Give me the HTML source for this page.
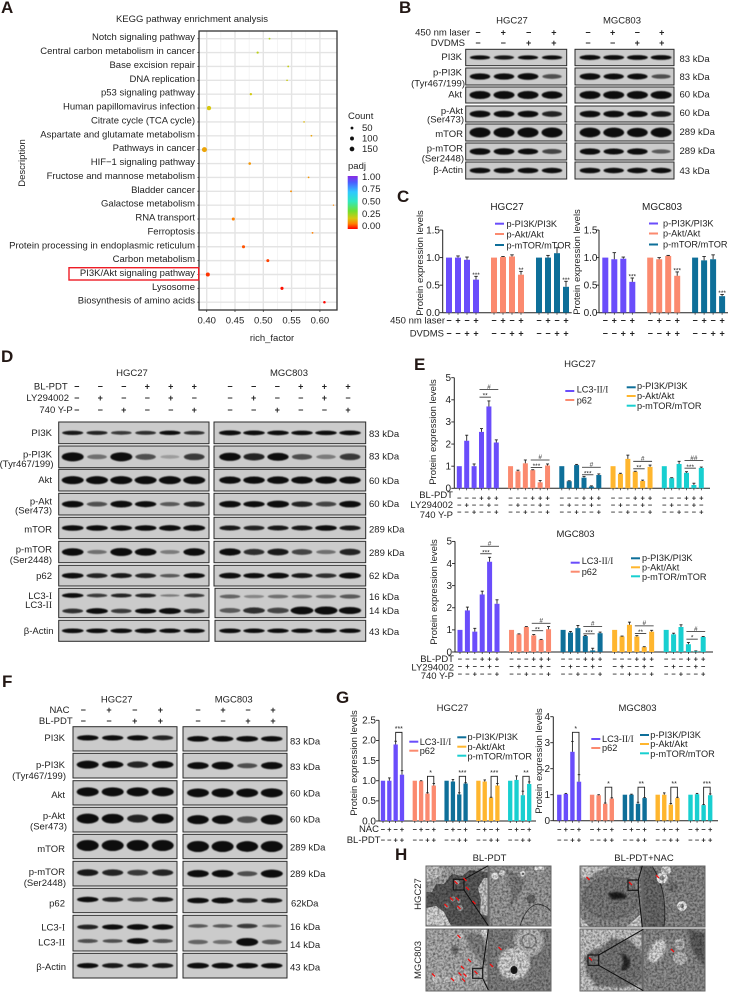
<!DOCTYPE html>
<html lang="en">
<head>
<meta charset="utf-8">
<title>PI3K/Akt pathway figure</title>
<style>
html,body{margin:0;padding:0;background:#fff;}
#figure{display:block;width:730px;height:992px;filter:blur(.35px);}
text{font-family:"Liberation Sans",Arial,sans-serif;font-size:9.5px;fill:#222;}
.r{text-anchor:end;}
.m{text-anchor:middle;}
.l{font-size:9.2px;}
.p{font-size:17px;font-weight:bold;fill:#231815;}
.s{font-family:"Liberation Serif",serif;}
</style>
</head>
<body>
<svg id="figure" xmlns="http://www.w3.org/2000/svg" width="730" height="992" viewBox="0 0 730 992">
<defs>
<linearGradient id="padjGrad" x1="0" y1="0" x2="0" y2="1">
<stop offset="0" stop-color="#8a2be2"/><stop offset=".12" stop-color="#4a5cff"/><stop offset=".3" stop-color="#30c8ff"/><stop offset=".48" stop-color="#30e8c0"/><stop offset=".66" stop-color="#70e030"/><stop offset=".8" stop-color="#d8c810"/><stop offset=".9" stop-color="#ff8000"/><stop offset="1" stop-color="#ff0000"/>
</linearGradient>
<filter id="bandBlur" x="-20%" y="-60%" width="140%" height="220%"><feGaussianBlur stdDeviation=".55"/></filter>
<filter id="emBlur" x="-10%" y="-10%" width="120%" height="120%"><feGaussianBlur stdDeviation="1"/></filter>
<filter id="emNoise" x="0" y="0" width="100%" height="100%"><feTurbulence type="fractalNoise" baseFrequency=".45" numOctaves="2" seed="4"/><feColorMatrix values="0 0 0 0 0  0 0 0 0 0  0 0 0 0 0  1 0 0 0 -.34"/></filter>
<clipPath id="clip1"><rect x="426" y="866" width="62" height="60"/></clipPath>
<clipPath id="clip2"><rect x="489" y="866" width="62" height="60"/></clipPath>
<clipPath id="clip3"><rect x="426" y="929" width="62" height="62"/></clipPath>
<clipPath id="clip4"><rect x="489" y="929" width="62" height="62"/></clipPath>
<clipPath id="clip5"><rect x="580" y="866" width="62" height="61"/></clipPath>
<clipPath id="clip6"><rect x="643" y="866" width="62" height="61"/></clipPath>
<clipPath id="clip7"><rect x="580" y="929" width="62" height="62"/></clipPath>
<clipPath id="clip8"><rect x="643" y="929" width="62" height="62"/></clipPath>
</defs>
<rect width="730" height="992" fill="#fff"/>

<!-- Panel letters -->
<text class="p" x="1" y="13">A</text>
<text class="p" x="399" y="13">B</text>
<text class="p" x="397" y="202">C</text>
<text class="p" x="1" y="362">D</text>
<text class="p" x="414" y="370">E</text>
<text class="p" x="2" y="687">F</text>
<text class="p" x="336" y="703">G</text>
<text class="p" x="395" y="860">H</text>

<!-- Panel A static text -->
<text class="m" x="192" y="22">KEGG pathway enrichment analysis</text>
<text class="m" transform="translate(25,163) rotate(-90)">Description</text>
<text class="m" x="272" y="341">rich_factor</text>
<text x="348" y="119">Count</text>
<text x="362" y="131">50</text>
<text x="362" y="141.5">100</text>
<text x="362" y="152">150</text>
<text x="348" y="169">padj</text>
<rect x="347.7" y="176" width="10" height="53" fill="url(#padjGrad)"/>
<text x="362" y="180">1.00</text>
<text x="362" y="192">0.75</text>
<text x="362" y="204.5">0.50</text>
<text x="362" y="217">0.25</text>
<text x="362" y="229">0.00</text>

<!-- Panel B text -->
<text class="m" x="512" y="23.5">HGC27</text>
<text class="m" x="622" y="23.5">MGC803</text>
<text class="r" x="470" y="35.5">450 nm laser</text>
<text class="r" x="465" y="46">DVDMS</text>
<text class="r" x="462" y="60">PI3K</text>
<text class="r" x="462" y="75.5">p-PI3K</text>
<text class="r" x="465" y="86.5">(Tyr467/199)</text>
<text class="r" x="462" y="97.5">Akt</text>
<text class="r" x="463" y="114">p-Akt</text>
<text class="r" x="464" y="122.5">(Ser473)</text>
<text class="r" x="463" y="137">mTOR</text>
<text class="r" x="463" y="151.5">p-mTOR</text>
<text class="r" x="464" y="161.5">(Ser2448)</text>
<text class="r" x="463" y="173">β-Actin</text>
<text x="679.5" y="62">83 kDa</text>
<text x="679.5" y="80">83 kDa</text>
<text x="679.5" y="97.5">60 kDa</text>
<text x="679.5" y="116">60 kDa</text>
<text x="679.5" y="135">289 kDa</text>
<text x="679.5" y="154">289 kDa</text>
<text x="679.5" y="174">43 kDa</text>

<!-- Panel C text -->
<text class="m" x="507" y="210" style="font-size:10px">HGC27</text>
<text class="m" x="662" y="210" style="font-size:10px">MGC803</text>
<text class="m" transform="translate(423,263) rotate(-90)">Protein expression levels</text>
<text class="m" transform="translate(580,262) rotate(-90)">Protein expression levels</text>
<text class="r" x="445" y="323.5">450 nm laser</text>
<text class="r" x="444" y="336.5">DVDMS</text>
<g>
<rect x="495" y="222.7" width="9" height="2" fill="#6a4dfb"/>
<rect x="495" y="233" width="9" height="2" fill="#fb8a6f"/>
<rect x="495" y="244" width="9" height="2" fill="#0e6f99"/>
<text class="l" x="506.5" y="227">p-PI3K/PI3K</text>
<text class="l" x="506.5" y="237.5">p-Akt/Akt</text>
<text class="l" x="506.5" y="248.5">p-mTOR/mTOR</text>
</g>
<g>
<rect x="649" y="222.5" width="9" height="2" fill="#6a4dfb"/>
<rect x="649" y="232.5" width="9" height="2" fill="#fb8a6f"/>
<rect x="649" y="243.5" width="9" height="2" fill="#0e6f99"/>
<text class="l" x="663" y="226.5">p-PI3K/PI3K</text>
<text class="l" x="663" y="236.5">p-Akt/Akt</text>
<text class="l" x="663" y="247.5">p-mTOR/mTOR</text>
</g>

<!-- Panel D text -->
<text class="m" x="132" y="376">HGC27</text>
<text class="m" x="289" y="376">MGC803</text>
<text class="r" x="67.7" y="389.5">BL-PDT</text>
<text class="r" x="69" y="401">LY294002</text>
<text class="r" x="72.7" y="413">740 Y-P</text>
<text class="r" x="52" y="436">PI3K</text>
<text class="r" x="52" y="457.5">p-PI3K</text>
<text class="r" x="53.5" y="467">(Tyr467/199)</text>
<text class="r" x="52" y="483">Akt</text>
<text class="r" x="52" y="504.5">p-Akt</text>
<text class="r" x="52" y="513.5">(Ser473)</text>
<text class="r" x="52" y="532.5">mTOR</text>
<text class="r" x="52" y="552.5">p-mTOR</text>
<text class="r" x="52" y="563">(Ser2448)</text>
<text class="r" x="52" y="579">p62</text>
<text class="r" x="52" y="599">LC3-<tspan class="s">I</tspan></text>
<text class="r" x="52" y="605" dy="3">LC3-<tspan class="s">II</tspan></text>
<text class="r" x="53.5" y="634">β-Actin</text>
<text x="369" y="437">83 kDa</text>
<text x="369" y="459.5">83 kDa</text>
<text x="369" y="484">60 kDa</text>
<text x="369" y="507">60 kDa</text>
<text x="369" y="532.5">289 kDa</text>
<text x="369" y="556">289 kDa</text>
<text x="369" y="579">62 kDa</text>
<text x="369" y="600">16 kDa</text>
<text x="369" y="614">14 kDa</text>
<text x="369" y="635">43 kDa</text>

<!-- Panel E text -->
<text class="m" x="580" y="367">HGC27</text>
<text class="m" x="575.5" y="537">MGC803</text>
<text class="m" transform="translate(436,432) rotate(-90)">Protein expression levels</text>
<text class="m" transform="translate(437,592) rotate(-90)">Protein expression levels</text>
<text class="r" x="453" y="498">BL-PDT</text>
<text class="r" x="453" y="508">LY294002</text>
<text class="r" x="453" y="518">740 Y-P</text>
<text class="r" x="454" y="662">BL-PDT</text>
<text class="r" x="454" y="670.5">LY294002</text>
<text class="r" x="454" y="679">740 Y-P</text>
<g>
<rect x="565.3" y="390" width="9" height="2" fill="#6a4dfb"/>
<rect x="565.3" y="399" width="9" height="2" fill="#fb8a6f"/>
<rect x="626.7" y="386.3" width="9" height="2" fill="#0e6f99"/>
<rect x="626.7" y="395" width="9" height="2" fill="#ffb62e"/>
<rect x="626.7" y="404.7" width="9" height="2" fill="#18cfd0"/>
<text class="l" x="576.7" y="392.5">LC3-<tspan class="s">II/I</tspan></text>
<text class="l" x="576.7" y="403.5">p62</text>
<text class="l" x="637" y="389">p-PI3K/PI3K</text>
<text class="l" x="637" y="399">p-Akt/Akt</text>
<text class="l" x="637" y="409">p-mTOR/mTOR</text>
</g>
<g>
<rect x="570.7" y="561.7" width="9" height="2" fill="#6a4dfb"/>
<rect x="570.7" y="570.7" width="9" height="2" fill="#fb8a6f"/>
<rect x="631" y="557.3" width="9" height="2" fill="#0e6f99"/>
<rect x="631" y="566.3" width="9" height="2" fill="#ffb62e"/>
<rect x="631" y="575.3" width="9" height="2" fill="#18cfd0"/>
<text class="l" x="581.7" y="564">LC3-<tspan class="s">II/I</tspan></text>
<text class="l" x="581.7" y="575">p62</text>
<text class="l" x="642" y="561">p-PI3K/PI3K</text>
<text class="l" x="642" y="570.5">p-Akt/Akt</text>
<text class="l" x="642" y="580">p-mTOR/mTOR</text>
</g>

<!-- Panel F text -->
<text class="m" x="116.7" y="702.5">HGC27</text>
<text class="m" x="233.7" y="702.5">MGC803</text>
<text class="r" x="69.5" y="713">NAC</text>
<text class="r" x="72.7" y="724">BL-PDT</text>
<text class="r" x="65" y="741">PI3K</text>
<text class="r" x="65" y="768">p-PI3K</text>
<text class="r" x="66" y="779">(Tyr467/199)</text>
<text class="r" x="65" y="798">Akt</text>
<text class="r" x="65" y="819">p-Akt</text>
<text class="r" x="67" y="829.5">(Ser473)</text>
<text class="r" x="65" y="852">mTOR</text>
<text class="r" x="65" y="875">p-mTOR</text>
<text class="r" x="66" y="886">(Ser2448)</text>
<text class="r" x="65" y="906.5">p62</text>
<text class="r" x="65" y="930.5">LC3-<tspan class="s">I</tspan></text>
<text class="r" x="65" y="945.5">LC3-<tspan class="s">II</tspan></text>
<text class="r" x="66" y="970">β-Actin</text>
<text x="290" y="744.5">83 kDa</text>
<text x="290" y="770">83 kDa</text>
<text x="290" y="796.5">60 kDa</text>
<text x="290" y="822.5">60 kDa</text>
<text x="290" y="850.5">289 kDa</text>
<text x="290" y="877">289 kDa</text>
<text x="291" y="906.5">62kDa</text>
<text x="290" y="930">16 kDa</text>
<text x="290" y="948">14 kDa</text>
<text x="290" y="970.5">43 kDa</text>

<!-- Panel G text -->
<text class="m" x="452.5" y="711">HGC27</text>
<text class="m" x="637.5" y="711">MGC803</text>
<text class="m" transform="translate(357,763) rotate(-90)">Protein expression levels</text>
<text class="m" transform="translate(542,761) rotate(-90)">Protein expression levels</text>
<text class="r" x="379" y="832">NAC</text>
<text class="r" x="380.5" y="843">BL-PDT</text>
<g>
<rect x="409.3" y="740.7" width="9" height="2" fill="#6a4dfb"/>
<rect x="409.3" y="749.7" width="9" height="2" fill="#fb8a6f"/>
<rect x="457.3" y="736.3" width="9" height="2" fill="#0e6f99"/>
<rect x="457.3" y="745.7" width="9" height="2" fill="#ffb62e"/>
<rect x="457.3" y="754.7" width="9" height="2" fill="#18cfd0"/>
<text class="l" x="419.7" y="745">LC3-<tspan class="s">II/I</tspan></text>
<text class="l" x="419.7" y="754">p62</text>
<text class="l" x="467.5" y="740">p-PI3K/PI3K</text>
<text class="l" x="467.5" y="750">p-Akt/Akt</text>
<text class="l" x="467.5" y="759.5">p-mTOR/mTOR</text>
</g>
<g>
<rect x="591.3" y="738" width="9" height="2" fill="#6a4dfb"/>
<rect x="591.3" y="747" width="9" height="2" fill="#fb8a6f"/>
<rect x="640" y="734" width="9" height="2" fill="#0e6f99"/>
<rect x="640" y="743" width="9" height="2" fill="#ffb62e"/>
<rect x="640" y="752.3" width="9" height="2" fill="#18cfd0"/>
<text class="l" x="602" y="742">LC3-<tspan class="s">II/I</tspan></text>
<text class="l" x="602" y="751">p62</text>
<text class="l" x="650.3" y="738">p-PI3K/PI3K</text>
<text class="l" x="650.3" y="747">p-Akt/Akt</text>
<text class="l" x="650.3" y="757">p-mTOR/mTOR</text>
</g>

<!-- Panel H micrographs -->
<text class="m" x="489.5" y="861">BL-PDT</text>
<text class="m" x="644" y="861">BL-PDT+NAC</text>
<text class="m" transform="translate(421,894) rotate(-90)">HGC27</text>
<text class="m" transform="translate(421,960) rotate(-90)">MGC803</text>

<g clip-path="url(#clip1)">
<rect x="426" y="866" width="62" height="60" fill="#5e5e5e"/>
<path d="M426 866 H488 V872 L470 870 L462 876 L452 874 L444 884 L436 884 L432 892 L426 892 Z" fill="#a8a8a8"/>
<path d="M426 866 H444 L440 876 L432 880 L426 882 Z" fill="#cdcdcd"/>
<path d="M426 908 L436 906 L444 912 L450 924 L452 926 H426 Z" fill="#dedede"/>
<path d="M484 878 H488 V916 L480 914 L481 900 L478 888 Z" fill="#cfcfcf"/>
<circle cx="447" cy="906" r="2.5" fill="#9a9a9a"/><circle cx="453" cy="899" r="2.5" fill="#9a9a9a"/><circle cx="459" cy="901" r="2" fill="#a5a5a5"/><circle cx="460" cy="908" r="3" fill="#a5a5a5"/><circle cx="457" cy="882" r="2.5" fill="#b5b5b5"/>
<rect x="426" y="866" width="62" height="60" filter="url(#emNoise)"/>
</g>
<g clip-path="url(#clip2)">
<rect x="489" y="866" width="62" height="60" fill="#a2a2a2"/>
<path d="M505 868 Q515 890 508 908 Q520 898 525 880 Z" fill="#808080" filter="url(#emBlur)"/>
<path d="M520 926 Q526 906 538 904 Q548 906 551 912" fill="none" stroke="#444" stroke-width="1"/>
<circle cx="495" cy="876" r="3.5" fill="#eee"/><circle cx="502" cy="873" r="3" fill="#ddd"/><circle cx="523" cy="874" r="3" fill="#f0f0f0"/><circle cx="523" cy="874" r="1" fill="#555"/><circle cx="531" cy="899" r="4.5" fill="#6a6a6a"/>
<rect x="534" y="866" width="10" height="4" fill="#f2f2f2"/>
<rect x="489" y="866" width="62" height="60" filter="url(#emNoise)"/>
</g>
<g clip-path="url(#clip3)">
<rect x="426" y="929" width="62" height="62" fill="#b4b4b4"/>
<path d="M481 930 H488 V948 L484 945 Z" fill="#ececec"/>
<path d="M465 932 L482 934 L488 950 L488 968 L470 950 Z" fill="#888" filter="url(#emBlur)"/>
<ellipse cx="455" cy="950" rx="3.5" ry="5" fill="#6b6b6b" filter="url(#emBlur)"/>
<circle cx="436" cy="978" r="4.5" fill="#d4d4d4"/><circle cx="446" cy="980" r="4" fill="#d0d0d0"/><circle cx="456" cy="979" r="4" fill="#cfcfcf"/><circle cx="466" cy="975" r="3" fill="#c8c8c8"/><circle cx="460" cy="936" r="3" fill="#cfcfcf"/>
<rect x="426" y="929" width="62" height="62" filter="url(#emNoise)"/>
</g>
<g clip-path="url(#clip4)">
<rect x="489" y="929" width="62" height="62" fill="#868686"/>
<circle cx="529" cy="941" r="15" fill="#c2c2c2" filter="url(#emBlur)"/>
<circle cx="529" cy="941" r="7" fill="none" stroke="#8a8a8a" stroke-width="1.5"/>
<circle cx="514" cy="964" r="16" fill="#dcdcdc" filter="url(#emBlur)"/>
<ellipse cx="514" cy="970" rx="3.5" ry="4" fill="#1a1a1a"/>
<rect x="489" y="929" width="62" height="62" filter="url(#emNoise)"/>
</g>
<g clip-path="url(#clip5)">
<rect x="580" y="866" width="62" height="61" fill="#929292"/>
<path d="M580 866 L612 866 L596 872 L588 878 L580 878 Z" fill="#d8d8d8" filter="url(#emBlur)"/>
<ellipse cx="611" cy="898" rx="27" ry="21" fill="#808080" stroke="#666" stroke-width="1" filter="url(#emBlur)"/>
<path d="M608 894 Q616 889 626 895 Q628 900 618 899 Q612 902 608 894 Z" fill="#1e1e1e" filter="url(#emBlur)"/>
<path d="M580 917 L590 927 L580 927 Z M626 927 L642 913 L642 927 Z" fill="#d5d5d5"/>
<rect x="580" y="866" width="62" height="61" filter="url(#emNoise)"/>
</g>
<g clip-path="url(#clip6)">
<rect x="643" y="866" width="62" height="61" fill="#8e8e8e"/>
<path d="M643 866 H652 Q668 890 664 927 H643 Z" fill="#6f6f6f"/>
<path d="M652 866 Q668 890 664 927" fill="none" stroke="#333" stroke-width="1"/>
<circle cx="666" cy="870" r="5" fill="#ddd"/><circle cx="662" cy="878" r="5.5" fill="#f2f2f2"/><circle cx="662" cy="878" r="2.5" fill="#999"/><circle cx="673" cy="887" r="5" fill="#767676"/><circle cx="682" cy="906" r="5" fill="#eaeaea"/><circle cx="682" cy="906" r="2" fill="#999"/>
<rect x="643" y="866" width="62" height="61" filter="url(#emNoise)"/>
</g>
<g clip-path="url(#clip7)">
<rect x="580" y="929" width="62" height="62" fill="#cdcdcd"/>
<path d="M584 958 L592 950 L600 948 L612 938 L630 940 L642 952 L642 984 L622 988 L596 986 L586 972 Z" fill="#7c7c7c" filter="url(#emBlur)"/>
<path d="M621 953 Q630 956 630 964 Q628 972 620 970 Q626 964 621 953 Z" fill="#262626" filter="url(#emBlur)"/>
<rect x="580" y="929" width="62" height="62" filter="url(#emNoise)"/>
</g>
<g clip-path="url(#clip8)">
<rect x="643" y="929" width="62" height="62" fill="#909090"/>
<ellipse cx="657" cy="951" rx="7" ry="13" transform="rotate(30 657 951)" fill="#e0e0e0" filter="url(#emBlur)"/>
<circle cx="680" cy="944" r="5.5" fill="#c4c4c4"/><circle cx="680" cy="944" r="2.5" fill="#9a9a9a"/><circle cx="680" cy="958" r="7" fill="#c0c0c0"/>
<path d="M688 929 L705 933 L705 968 L692 950 Z" fill="#606060" filter="url(#emBlur)"/>
<rect x="643" y="929" width="62" height="62" filter="url(#emNoise)"/>
</g>
<g fill="none" stroke="#666" stroke-width="1">
<rect x="426" y="866" width="62" height="60"/><rect x="489" y="866" width="62" height="60"/><rect x="426" y="929" width="62" height="62"/><rect x="489" y="929" width="62" height="62"/>
<rect x="580" y="866" width="62" height="61"/><rect x="643" y="866" width="62" height="61"/><rect x="580" y="929" width="62" height="62"/><rect x="643" y="929" width="62" height="62"/>
</g>
<g fill="none" stroke="#111" stroke-width="1.1">
<rect x="453.3" y="879.3" width="10.7" height="10.7"/>
<path d="M464 879.3L488.3 865.7M464 890L488.3 925.7"/>
<rect x="472.7" y="968.3" width="10" height="10"/>
<path d="M482.7 968.3L488.3 929.3M482.7 978.3L488.3 990"/>
<rect x="628" y="880" width="10.3" height="10.3"/>
<path d="M638.3 880L642.3 865.7M638.3 890.3L642.3 927.3"/>
<rect x="588" y="955" width="10.7" height="10.3"/>
<path d="M598.7 955L643.3 929.3M598.7 965.3L643.3 990.7"/>
</g>
<path fill="none" stroke="#f01010" stroke-width="1.3" d="M454.5 881l3 3M463.5 878l3 3M466 887l3 3M472.5 901l3 3M450 897.500l3 3M456 897.500l3 3M444.500 904l3 3M457.500 906l3 3M457.500 935l3 3M468 959l3 3M461 966l3 3M474.500 971l3 3M458.500 972.500l3 3M463.500 973.500l3 3M432 973.500l3 3M451 978l3 3M462 978.500l3 3M498.500 947l3 3M490 964l3 3M586.500 877l3 3M629 882l3 3M656 875l3 3M589 957.500l3 3M671 949l3 3"/>

<g id="dynamic"></g>
</svg>

<script>
/* ---------- Panel A data ---------- */
const keggPathways = ["Notch signaling pathway","Central carbon metabolism in cancer","Base excision repair","DNA replication","p53 signaling pathway","Human papillomavirus infection","Citrate cycle (TCA cycle)","Aspartate and glutamate metabolism","Pathways in cancer","HIF−1 signaling pathway","Fructose and mannose metabolism","Bladder cancer","Galactose metabolism","RNA transport","Ferroptosis","Protein processing in endoplasmic reticulum","Carbon metabolism","PI3K/Akt signaling pathway","Lysosome","Biosynthesis of amino acids"];
const keggRichFactor = [0.511,0.490,0.544,0.542,0.478,0.404,0.572,0.585,0.396,0.476,0.580,0.549,0.624,0.447,0.587,0.465,0.508,0.402,0.533,0.608];
const keggCount = [18,28,18,15,35,130,14,16,170,42,16,20,8,60,18,60,55,105,62,38];
const keggPadj = [0.25,0.24,0.23,0.22,0.21,0.2,0.18,0.15,0.15,0.13,0.13,0.12,0.11,0.1,0.1,0.065,0.05,0.04,0.012,0.005];
const keggXTicks = [0.40,0.45,0.50,0.55,0.60];
const countLegendValues = [50,100,150];

/* ---------- Panel C data ---------- */
const cTicks = [0,0.5,1.0,1.5];
const cLaser = ['−','+','−','+'];
const cDvdms = ['−','−','+','+'];
const cHgcPI3K = [1,1,0.96,0.6];
const cHgcAkt = [1,1.01,1.02,0.69];
const cHgcMTOR = [1,1,1.08,0.47];
const cHgcPI3KErr = [0,0.03,0.05,0.06];
const cHgcAktErr = [0,0.01,0.03,0.06];
const cHgcMTORErr = [0,0.04,0.1,0.1];
const cHgcStars = ['***','**','***'];
const cMgcPI3K = [1,0.97,0.98,0.56];
const cMgcAkt = [1,0.97,1.03,0.67];
const cMgcMTOR = [1,0.95,0.97,0.3];
const cMgcPI3KErr = [0,0.12,0.03,0.07];
const cMgcAktErr = [0,0.03,0.01,0.07];
const cMgcMTORErr = [0,0.07,0.08,0.03];
const cMgcStars = ['***','***','***'];

/* ---------- Panel E data ---------- */
const eTicks = [0,1,2,3,4,5];
const eBlPdt = ['−','−','−','+','+','+'];
const eLy = ['−','+','−','−','+','−'];
const e740 = ['−','−','+','−','−','+'];
const eHgcLC3 = [1,2.15,1,2.55,3.7,2.07];
const eHgcP62 = [1,0.77,1.13,0.82,0.27,1.03];
const eHgcPI3K = [1,0.32,1.05,0.48,0.08,0.6];
const eHgcAkt = [1,0.65,1.33,0.75,0.33,0.97];
const eHgcMTOR = [1,0.46,1.1,0.7,0.15,0.92];
const eHgcLC3Err = [0,0.25,0.1,0.15,0.25,0.12];
const eHgcP62Err = [0,0.05,0.15,0.02,0.08,0.07];
const eHgcPI3KErr = [0,0.02,0.03,0.05,0.03,0.05];
const eHgcAktErr = [0,0.03,0.17,0.02,0.04,0.08];
const eHgcMTORErr = [0,0.02,0.12,0.05,0.08,0.04];
const eHgcBracketLevels = [4.46,1.28,0.95,1.22,1.25];
const eHgcUpperLabels = ['#','#','#','#','##'];
const eHgcLowerLabels = ['**','***','***','**','***'];
const eMgcLC3 = [1,1.88,0.92,2.6,4.08,2.18];
const eMgcP62 = [1,0.8,1.13,0.75,0.55,1.03];
const eMgcPI3K = [1,0.88,1.08,0.72,0.07,0.85];
const eMgcAkt = [1,0.7,1.23,0.7,0.22,0.92];
const eMgcMTOR = [1,0.8,1.13,0.35,0.03,0.68];
const eMgcLC3Err = [0,0.15,0.15,0.15,0.2,0.18];
const eMgcP62Err = [0,0.02,0.02,0.04,0.02,0.12];
const eMgcPI3KErr = [0,0.05,0.12,0.03,0.1,0.05];
const eMgcAktErr = [0,0.02,0.12,0.04,0.02,0.06];
const eMgcMTORErr = [0,0.05,0.1,0.08,0.02,0.02];
const eMgcBracketLevels = [4.78,1.3,1.16,1.18,0.92];
const eMgcUpperLabels = ['#','#','#','#','#'];
const eMgcLowerLabels = ['***','**','***','**','*'];

/* ---------- Panel G data ---------- */
const gLeftTicks = [0,0.5,1.0,1.5,2.0,2.5];
const gRightTicks = [0,1,2,3,4];
const gNac = ['−','+','−','+'];
const gBl = ['−','−','+','+'];
const gHgcLC3 = [1,1,1.9,1.15];
const gHgcP62 = [1,0.99,0.68,0.88];
const gHgcPI3K = [1,0.98,0.66,0.93];
const gHgcAkt = [1,0.98,0.58,0.88];
const gHgcMTOR = [1,1.02,0.64,0.92];
const gHgcLC3Err = [0,0.07,0.08,0.1];
const gHgcP62Err = [0,0.01,0.02,0.05];
const gHgcPI3KErr = [0,0.05,0.04,0.02];
const gHgcAktErr = [0,0.04,0.01,0.05];
const gHgcMTORErr = [0,0.1,0.1,0.05];
const gHgcBracketLevels = [2.2,1.11,1.11,1.11,1.11];
const gHgcStars = ['***','*','***','***','**'];
const gMgcLC3 = [1,1.03,2.65,1.5];
const gMgcP62 = [1,0.98,0.65,0.85];
const gMgcPI3K = [1,1,0.65,0.87];
const gMgcAkt = [1,1,0.62,0.87];
const gMgcMTOR = [1,1.02,0.6,0.98];
const gMgcLC3Err = [0,0.02,0.4,0.27];
const gMgcP62Err = [0,0.02,0.03,0.03];
const gMgcPI3KErr = [0,0.02,0.06,0.02];
const gMgcAktErr = [0,0.07,0.04,0.03];
const gMgcMTORErr = [0,0.03,0.02,0.05];
const gMgcBracketLevels = [3.4,1.29,1.29,1.29,1.29];
const gMgcStars = ['*','*','**','**','***'];

/* ---------- Western blot band intensities (0-1) ---------- */
const bHgcRows = [[.8,.75,.8,.8],[.85,.85,.95,.5],[1,1,1,.9],[.95,.9,.9,.7],[1,1,1,1],[.9,.9,.8,.55],[.9,.9,.9,.85]];
const bMgcRows = [[1,.95,.95,.95],[.9,.8,.8,.45],[1,1,1,1],[.9,.9,.85,.75],[.95,.95,.9,.95],[.85,.8,.85,.4],[.9,.85,.85,.85]];
const dHgcRows = [[.75,.7,.6,.65,.8,.65],[1,.3,1,.5,.1,.6],[1,1,1,1,1,1],[.9,.5,.95,.8,.4,.7],[.9,.9,.85,.9,.95,1],[.9,.3,1,.9,.25,.9],[.9,.7,.75,.7,.4,.8]];
const dMgcRows = [[1,.9,.9,.85,.85,.9],[.85,.7,.8,.45,.25,.6],[.85,.85,.9,.85,.85,.85],[.9,.8,1,.7,.55,.9],[.75,.7,.75,.75,.9,.75],[.85,.65,.75,.55,.3,.7],[.95,.8,.95,.75,.65,1]];
const dHgcLC3I = [.9,.6,.7,.7,.25,.6];
const dHgcLC3II = [.65,.95,.6,.8,1,.65];
const dHgcActin = [.9,.9,.9,.95,.85,.8];
const dMgcLC3I = [.35,.2,.3,.3,.3,.4];
const dMgcLC3II = [.4,.65,.55,.95,1,.8];
const dMgcActin = [.9,.85,.85,.85,.85,.85];
const fHgcRows = [[.85,.8,.8,.7],[1,.8,.7,.85],[1,1,1,1],[1,.95,.7,.95],[1,1,1,1],[.75,.7,.6,.7],[.85,.7,.55,.75]];
const fMgcRows = [[.9,.9,.95,.85],[.8,.95,.45,.85],[.95,1,.95,1],[.85,.8,.5,1],[1,1,.95,1],[.85,.9,.45,1],[.9,1,.7,.75]];
const fHgcLC3I = [.7,.8,.95,.85];
const fHgcLC3II = [.5,.45,.95,.5];
const fHgcActin = [.8,.75,.75,.75];
const fMgcLC3I = [.4,.4,.6,.3];
const fMgcLC3II = [.35,.3,1,.4];
const fMgcActin = [.95,.95,.9,.85];
const blotSignsB1 = ['−','+','−','+'];
const blotSignsB2 = ['−','−','+','+'];

const SVGNS = 'http://www.w3.org/2000/svg';
const root = document.getElementById('dynamic');
const C_PURPLE='#6a4dfb', C_SALMON='#fb8a6f', C_TEAL='#0e6f99', C_GOLD='#ffb62e', C_CYAN='#18cfd0';

function mk(tag, attrs, parent, name) {
  const el = document.createElementNS(SVGNS, tag);
  for (const k in attrs) el.setAttribute(k, attrs[k]);
  
  
  (parent || root).appendChild(el);
  return el;
}
function txt(x, y, str, parent, name, size, anchor, weight) {
  const el = mk('text', {x:x, y:y, 'text-anchor':anchor||'start'}, parent, name);
  if (size) el.style.fontSize = size + 'px';
  if (weight) el.style.fontWeight = weight;
  el.textContent = str;
  return el;
}

/* ---------- Panel A ---------- */
const xKegg = v => 206.7 + (v - 0.40) * 566;
const yKegg = i => 38.7 + i * 13.87;
const rKegg = c => 0.18 * Math.sqrt(c) + 0.15;
function padjColor(p) {
  const stops = [[0,[255,0,0]],[0.1,[255,128,0]],[0.2,[216,200,16]],[0.34,[112,224,48]],[0.52,[48,232,192]],[0.7,[48,200,255]],[0.88,[74,92,255]],[1,[138,43,226]]];
  for (let i = 1; i < stops.length; i++) {
    if (p <= stops[i][0]) {
      const t = (p - stops[i-1][0]) / (stops[i][0] - stops[i-1][0]);
      const a = stops[i-1][1], b = stops[i][1];
      return 'rgb(' + a.map((c, j) => Math.round(c + (b[j] - c) * t)).join(',') + ')';
    }
  }
  return 'rgb(138,43,226)';
}
(function drawKegg() {
  const g = mk('g', {}, root, 'kegg-dot-plot');
  mk('rect', {x:199, y:31, width:138, height:279, fill:'#fff'}, g, 'kegg-plot-background');
  keggXTicks.forEach((t, i) => {
    mk('line', {x1:xKegg(t), x2:xKegg(t), y1:31, y2:310, stroke:'#e4e4e4', 'stroke-width':1.4}, g, 'kegg-x-gridline');
    if (i < keggXTicks.length - 1) mk('line', {x1:xKegg(t+0.025), x2:xKegg(t+0.025), y1:31, y2:310, stroke:'#efefef', 'stroke-width':.7}, g, 'kegg-x-minor-gridline');
    mk('line', {x1:xKegg(t), x2:xKegg(t), y1:310, y2:312, stroke:'#333', 'stroke-width':.8}, g, 'kegg-x-tick');
    txt(xKegg(t), 323.5, t.toFixed(2), g, 'kegg-x-tick-label', null, 'middle');
  });
  keggPathways.forEach((name, i) => {
    mk('line', {x1:199, x2:337, y1:yKegg(i), y2:yKegg(i), stroke:'#e4e4e4', 'stroke-width':1.4}, g, 'kegg-y-gridline');
    mk('line', {x1:197.5, x2:199, y1:yKegg(i), y2:yKegg(i), stroke:'#333', 'stroke-width':.9}, g, 'kegg-y-tick');
    txt(195, yKegg(i) + 1.5, name, g, 'kegg-pathway-label', null, 'end');
  });
  keggPathways.forEach((name, i) => {
    mk('circle', {cx:xKegg(keggRichFactor[i]), cy:yKegg(i), r:rKegg(keggCount[i]), fill:padjColor(keggPadj[i])}, g, 'kegg-point');
  });
  mk('rect', {x:199, y:31, width:138, height:279, fill:'none', stroke:'#333', 'stroke-width':1.3}, g, 'kegg-plot-border');
  mk('rect', {x:69, y:267.7, width:129.7, height:12.3, fill:'none', stroke:'#ee1c25', 'stroke-width':1.4}, g, 'pi3k-akt-highlight-box');
  countLegendValues.forEach((c, i) => {
    mk('circle', {cx:352, cy:128 + i * 10.5, r:rKegg(c), fill:'#111'}, g, 'count-legend-dot');
  });
})();

/* ---------- Blots ---------- */
function blotFrame(x, y, w, h, name, fill) {
  const g = mk('g', {}, root, name);
  mk('rect', {x:x, y:y, width:w, height:h, fill:fill || '#cbcbcb'}, g, 'blot-background');
  return {g:g, x:x, y:y, w:w, h:h};
}
function blotBands(frame, laneFn, vals, cy, th, bw) {
  const bg = mk('g', {filter:'url(#bandBlur)'}, frame.g, 'protein-bands');
  vals.forEach((v, i) => {
    const ry = th * (0.35 + 0.65 * v) / 2;
    const rx = bw * (0.85 + 0.15 * v) / 2;
    mk('ellipse', {cx:laneFn(i), cy:cy, rx:rx, ry:ry, fill:'#0a0a0a', opacity:Math.min(1, 0.12 + 1.1*v)}, bg, 'band');
  });
}
function blotBorder(frame) {
  mk('rect', {x:frame.x, y:frame.y, width:frame.w, height:frame.h, fill:'none', stroke:'#2a2a2a', 'stroke-width':1}, frame.g, 'blot-frame');
}
function drawSignRow(arr, xFn, y, name, size) {
  arr.forEach((s, i) => {
    txt(xFn(i), y, s, root, name, size || 9, 'middle', 'bold');
  });
}
function blotPanel(rows, geom, laneFn, th, prefix, bw) {
  rows.forEach((vals, i) => {
    const f = blotFrame(geom.x, geom.ys[i], geom.w, geom.h[i], prefix + '-blot');
    blotBands(f, laneFn, vals, geom.ys[i] + geom.h[i]/2 + (geom.dy||0), th[i], bw);
    blotBorder(f);
  });
}
const bTop = [49.3,68,87,106,124,143,162];
const bHeights = [16.4,17,16,16,17,17,17];
const bThick = [5,7,8,7,10,7,6];
blotPanel(bHgcRows, {x:465.7, w:101, ys:bTop, h:bHeights}, i => 480 + 24*i, bThick, 'b-hgc27', 21);
blotPanel(bMgcRows, {x:575, w:99, ys:bTop, h:bHeights}, i => 590 + 23.7*i, bThick, 'b-mgc803', 21);
drawSignRow(blotSignsB1, i => 478 + 25.3*i, 35.5, 'b-laser-sign');
drawSignRow(blotSignsB2, i => 478 + 25.3*i, 46, 'b-dvdms-sign');
drawSignRow(blotSignsB1, i => 588 + 24.6*i, 35.5, 'b-laser-sign');
drawSignRow(blotSignsB2, i => 588 + 24.6*i, 46, 'b-dvdms-sign');

const dTop = [422,446,469.3,493.3,517.3,541.3,565.3];
const dHeights = [21.7,21.7,21.7,21.7,21.4,21.4,20.7];
const dThick = [5,9,8,7,6,8,6];
const dLaneL = i => 72.7 + 24.3*i;
const dLaneR = i => 230 + 24*i;
blotPanel(dHgcRows, {x:58.7, w:150.3, ys:dTop, h:dHeights}, dLaneL, dThick, 'd-hgc27', 22);
blotPanel(dMgcRows, {x:214, w:151.7, ys:dTop, h:dHeights}, dLaneR, dThick, 'd-mgc803', 22);
function lc3Blot(x, w, y, h, laneFn, a, b, ya, yb, thA, thB, name, bw) {
  const f = blotFrame(x, y, w, h, name);
  blotBands(f, laneFn, a, ya, thA, bw);
  blotBands(f, laneFn, b, yb, thB, bw);
  blotBorder(f);
}
lc3Blot(58.7, 150.3, 588.3, 29.4, dLaneL, dHgcLC3I, dHgcLC3II, 595.5, 611, 5, 6, 'd-hgc27-lc3-blot', 22);
lc3Blot(215, 150.7, 588.3, 29.4, dLaneR, dMgcLC3I, dMgcLC3II, 596.5, 610.5, 7, 8, 'd-mgc803-lc3-blot', 23);
function singleBlot(x, w, y, h, laneFn, vals, th, name, bw) {
  const f = blotFrame(x, y, w, h, name);
  blotBands(f, laneFn, vals, y + h/2, th, bw);
  blotBorder(f);
}
singleBlot(58.7, 150.3, 620.3, 21, dLaneL, dHgcActin, 5, 'd-hgc27-actin-blot', 22);
singleBlot(215, 150.7, 620.3, 21, dLaneR, dMgcActin, 5, 'd-mgc803-actin-blot', 22);
const dSignL = i => 76.7 + 23.5*i;
const dSignR = i => 230 + 23.6*i;
drawSignRow(eBlPdt, dSignL, 389.5, 'd-bl-pdt-sign');
drawSignRow(eLy, dSignL, 401, 'd-ly294002-sign');
drawSignRow(e740, dSignL, 413, 'd-740yp-sign');
drawSignRow(eBlPdt, dSignR, 389.5, 'd-bl-pdt-sign');
drawSignRow(eLy, dSignR, 401, 'd-ly294002-sign');
drawSignRow(e740, dSignR, 413, 'd-740yp-sign');

const fTop = [726.7,753.3,780.7,807.3,834.3,861.3,888.3];
const fHeights = [24.3,24.7,24.3,24.7,24.4,24.7,24.4];
const fThick = [6,8,9,10,11,8,6];
const fLaneL = i => 87.7 + 25*i;
const fLaneR = i => 198 + 24.6*i;
blotPanel(fHgcRows, {x:73, w:104, ys:fTop, h:fHeights, dy:-1}, fLaneL, fThick, 'f-hgc27', 22);
blotPanel(fMgcRows, {x:183, w:104, ys:fTop, h:fHeights}, fLaneR, fThick, 'f-mgc803', 22);
lc3Blot(73, 104, 915.3, 35.7, fLaneL, fHgcLC3I, fHgcLC3II, 927, 941, 6, 6, 'f-hgc27-lc3-blot', 22);
lc3Blot(183, 104, 915.3, 35.7, fLaneR, fMgcLC3I, fMgcLC3II, 926, 942, 6, 8, 'f-mgc803-lc3-blot', 22);
singleBlot(73, 104, 953.3, 24.7, fLaneL, fHgcActin, 6, 'f-hgc27-actin-blot', 22);
singleBlot(183, 104, 953.3, 24.7, fLaneR, fMgcActin, 6, 'f-mgc803-actin-blot', 22);
const fSignL = i => 83.3 + 25.7*i;
const fSignR = i => 198 + 25*i;
drawSignRow(gNac, fSignL, 713, 'f-nac-sign');
drawSignRow(gBl, fSignL, 724, 'f-bl-pdt-sign');
drawSignRow(gNac, fSignR, 713, 'f-nac-sign');
drawSignRow(gBl, fSignR, 724, 'f-bl-pdt-sign');

/* ---------- Bar charts ---------- */
function drawAxes(name, axisX, baseEnd, yFn, ticks, decimals, labelRight) {
  const g = mk('g', {}, root, name);
  mk('line', {x1:axisX, x2:axisX, y1:yFn(ticks[ticks.length-1]), y2:yFn(0), stroke:'#222', 'stroke-width':1}, g, 'y-axis-line');
  mk('line', {x1:axisX, x2:baseEnd, y1:yFn(0), y2:yFn(0), stroke:'#222', 'stroke-width':1}, g, 'x-axis-line');
  ticks.forEach(t => {
    mk('line', {x1:axisX - 3, x2:axisX, y1:yFn(t), y2:yFn(t), stroke:'#222', 'stroke-width':.9}, g, 'y-tick');
    txt(labelRight, yFn(t) + 3.3, t.toFixed(decimals), g, 'y-tick-label', 10, 'end');
  });
  return g;
}
function drawBars(name, values, errors, colors, xFn, yFn, barW, capW) {
  const g = mk('g', {}, root, name);
  values.forEach((vals, gi) => {
    vals.forEach((v, i) => {
      const cx = xFn(gi, i);
      mk('rect', {x:cx - barW/2, y:yFn(v), width:barW, height:yFn(0) - yFn(v), fill:colors[gi]}, g, 'bar');
      const e = errors[gi][i];
      if (e > 0) {
        mk('line', {x1:cx, x2:cx, y1:yFn(v), y2:yFn(v + e), stroke:'#222', 'stroke-width':.9}, g, 'error-bar');
        mk('line', {x1:cx - capW/2, x2:cx + capW/2, y1:yFn(v + e), y2:yFn(v + e), stroke:'#222', 'stroke-width':.9}, g, 'error-cap');
      }
      mk('line', {x1:cx, x2:cx, y1:yFn(0), y2:yFn(0) + 2, stroke:'#222', 'stroke-width':.7}, g, 'x-tick');
    });
  });
  return g;
}
function drawGroupSigns(arr, nGroups, xFn, y, name, size) {
  for (let gi = 0; gi < nGroups; gi++) {
    arr.forEach((s, i) => {
      txt(xFn(gi, i), y, s, root, name, size, 'middle', 'bold');
    });
  }
}
function drawEBrackets(name, levels, upper, lower, xFn, yFn) {
  const g = mk('g', {}, root, name);
  levels.forEach((lv, gi) => {
    const yu = yFn(lv);
    const yl = yu + 7.5;
    mk('line', {x1:xFn(gi,3) - 2, x2:xFn(gi,5) + 2, y1:yu, y2:yu, stroke:'#222', 'stroke-width':.8}, g, 'significance-line');
    mk('line', {x1:xFn(gi,3) - 2, x2:xFn(gi,4) + 2, y1:yl, y2:yl, stroke:'#222', 'stroke-width':.8}, g, 'significance-line');
    txt((xFn(gi,3) + xFn(gi,5)) / 2, yu - .8, upper[gi], g, 'significance-label', 6.5, 'middle');
    txt((xFn(gi,3) + xFn(gi,4)) / 2, yl + .6, lower[gi], g, 'significance-label', 6.5, 'middle');
  });
}
function drawGBrackets(name, levels, stars, values, errors, xFn, yFn) {
  const g = mk('g', {}, root, name);
  levels.forEach((lv, gi) => {
    const x1 = xFn(gi,2), x2 = xFn(gi,3), yt = yFn(lv);
    const d = 'M' + x1 + ' ' + yFn(values[gi][2] + errors[gi][2]) + 'L' + x1 + ' ' + yt + 'L' + x2 + ' ' + yt + 'L' + x2 + ' ' + yFn(values[gi][3] + errors[gi][3]);
    mk('path', {d:d, fill:'none', stroke:'#222', 'stroke-width':.9}, g, 'significance-bracket');
    txt((x1 + x2)/2, yt - 1.2, stars[gi], g, 'significance-label', 7, 'middle');
  });
}
const colorsC = [C_PURPLE, C_SALMON, C_TEAL];
const colorsFive = [C_PURPLE, C_SALMON, C_TEAL, C_GOLD, C_CYAN];

/* Panel C */
const yC = v => 312.7 - v * 55.1;
const xCL = (g, i) => 449 + 45 * g + 9 * i;
const xCR = (g, i) => 605.3 + 44.9 * g + 9 * i;
const cHgcValues = [cHgcPI3K, cHgcAkt, cHgcMTOR];
const cHgcErrors = [cHgcPI3KErr, cHgcAktErr, cHgcMTORErr];
const cMgcValues = [cMgcPI3K, cMgcAkt, cMgcMTOR];
const cMgcErrors = [cMgcPI3KErr, cMgcAktErr, cMgcMTORErr];
drawAxes('c-left-axes', 442.7, 571.7, yC, cTicks, 1, 440);
drawAxes('c-right-axes', 599, 728, yC, cTicks, 1, 597.5);
drawBars('c-left-bars', cHgcValues, cHgcErrors, colorsC, xCL, yC, 6, 3.5);
drawBars('c-right-bars', cMgcValues, cMgcErrors, colorsC, xCR, yC, 6, 3.5);
cHgcStars.forEach((s, g) => {
  txt(xCL(g,3), yC(cHgcValues[g][3] + cHgcErrors[g][3]) + .5, s, root, 'c-left-significance', 6.5, 'middle');
});
cMgcStars.forEach((s, g) => {
  txt(xCR(g,3), yC(cMgcValues[g][3] + cMgcErrors[g][3]) + .5, s, root, 'c-right-significance', 6.5, 'middle');
});
drawGroupSigns(cLaser, 3, xCL, 323.5, 'c-laser-sign', 9);
drawGroupSigns(cDvdms, 3, xCL, 336.5, 'c-dvdms-sign', 9);
drawGroupSigns(cLaser, 3, xCR, 323.5, 'c-laser-sign', 9);
drawGroupSigns(cDvdms, 3, xCR, 336.5, 'c-dvdms-sign', 9);

/* Panel E */
const yET = v => 488.3 - v * 22.12;
const yEB = v => 652 - v * 22.12;
const xET = (g, i) => 459.3 + 51.25 * g + 7.4 * i;
const xEB = (g, i) => 460 + 51.55 * g + 7.4 * i;
const eHgcValues = [eHgcLC3, eHgcP62, eHgcPI3K, eHgcAkt, eHgcMTOR];
const eHgcErrors = [eHgcLC3Err, eHgcP62Err, eHgcPI3KErr, eHgcAktErr, eHgcMTORErr];
const eMgcValues = [eMgcLC3, eMgcP62, eMgcPI3K, eMgcAkt, eMgcMTOR];
const eMgcErrors = [eMgcLC3Err, eMgcP62Err, eMgcPI3KErr, eMgcAktErr, eMgcMTORErr];
drawAxes('e-top-axes', 454.3, 710, yET, eTicks, 0, 451);
drawAxes('e-bottom-axes', 455, 713, yEB, eTicks, 0, 452);
drawBars('e-top-bars', eHgcValues, eHgcErrors, colorsFive, xET, yET, 5, 3);
drawBars('e-bottom-bars', eMgcValues, eMgcErrors, colorsFive, xEB, yEB, 5, 3);
drawEBrackets('e-top-significance', eHgcBracketLevels, eHgcUpperLabels, eHgcLowerLabels, xET, yET);
drawEBrackets('e-bottom-significance', eMgcBracketLevels, eMgcUpperLabels, eMgcLowerLabels, xEB, yEB);
drawGroupSigns(eBlPdt, 5, xET, 500.5, 'e-top-bl-pdt-sign', 7.5);
drawGroupSigns(eLy, 5, xET, 507.5, 'e-top-ly294002-sign', 7.5);
drawGroupSigns(e740, 5, xET, 514.5, 'e-top-740yp-sign', 7.5);
drawGroupSigns(eBlPdt, 5, xEB, 661.5, 'e-bottom-bl-pdt-sign', 7.5);
drawGroupSigns(eLy, 5, xEB, 669, 'e-bottom-ly294002-sign', 7.5);
drawGroupSigns(e740, 5, xEB, 676.5, 'e-bottom-740yp-sign', 7.5);

/* Panel G */
const yGL = v => 821 - v * 40.28;
const yGR = v => 820.7 - v * 26;
const xGL = (g, i) => 383 + 31.8 * g + 6.33 * i;
const xGR = (g, i) => 559.3 + 32.8 * g + 6.56 * i;
const gHgcValues = [gHgcLC3, gHgcP62, gHgcPI3K, gHgcAkt, gHgcMTOR];
const gHgcErrors = [gHgcLC3Err, gHgcP62Err, gHgcPI3KErr, gHgcAktErr, gHgcMTORErr];
const gMgcValues = [gMgcLC3, gMgcP62, gMgcPI3K, gMgcAkt, gMgcMTOR];
const gMgcErrors = [gMgcLC3Err, gMgcP62Err, gMgcPI3KErr, gMgcAktErr, gMgcMTORErr];
drawAxes('g-left-axes', 379, 536, yGL, gLeftTicks, 1, 376);
drawAxes('g-right-axes', 553.3, 718, yGR, gRightTicks, 0, 550);
drawBars('g-left-bars', gHgcValues, gHgcErrors, colorsFive, xGL, yGL, 4.3, 2.5);
drawBars('g-right-bars', gMgcValues, gMgcErrors, colorsFive, xGR, yGR, 4.4, 2.5);
drawGBrackets('g-left-significance', gHgcBracketLevels, gHgcStars, gHgcValues, gHgcErrors, xGL, yGL);
drawGBrackets('g-right-significance', gMgcBracketLevels, gMgcStars, gMgcValues, gMgcErrors, xGR, yGR);
drawGroupSigns(gNac, 5, xGL, 832, 'g-left-nac-sign', 7.5);
drawGroupSigns(gBl, 5, xGL, 842.5, 'g-left-bl-pdt-sign', 7.5);
drawGroupSigns(gNac, 5, xGR, 832, 'g-right-nac-sign', 7.5);
drawGroupSigns(gBl, 5, xGR, 842.5, 'g-right-bl-pdt-sign', 7.5);
</script>
</body>
</html>
